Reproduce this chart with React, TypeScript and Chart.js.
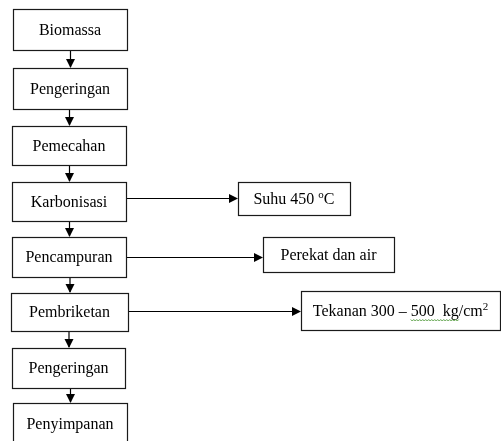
import React, { useEffect, useRef } from "react";
import { Chart, registerables } from "chart.js";

Chart.register(...registerables);

// Main process steps (top to bottom)
const mainSteps = [
  "Biomassa",
  "Pengeringan",
  "Pemecahan",
  "Karbonisasi",
  "Pencampuran",
  "Pembriketan",
  "Pengeringan",
  "Penyimpanan",
];
const mainLeft = [13, 13, 12, 12, 12, 11, 12, 13];
const mainRight = [127, 127, 126, 126, 126, 128, 125, 127];
const mainTop = [9, 68, 126, 182, 237, 293, 348, 403];
const mainBottom = [50, 109, 165, 221, 277, 331, 388, 446];

// Side notes (condition / input) attached to main steps
const sideMain = ["Suhu 450 ", "Perekat dan air", "Tekanan 300 – 500  kg/cm"];
const sideSup = ["o", "", "2"];
const sideTail = ["C", "", ""];
const sideFrom = [3, 4, 5];
const sideLeft = [238, 263, 301];
const sideRight = [350, 394, 500];
const sideTop = [182, 237, 291];
const sideBottom = [215, 272, 330];
const sideLineY = [198, 257, 311];

const FONT = "16px 'Liberation Serif', 'Times New Roman', serif";
const SUP_FONT = "11px 'Liberation Serif', 'Times New Roman', serif";

export default function App() {
  const ref = useRef<HTMLCanvasElement | null>(null);

  useEffect(() => {
    const canvas = ref.current;
    if (!canvas) return;

    const connectors: any[] = [];
    for (let i = 0; i < mainSteps.length - 1; i++) {
      const x = (mainLeft[i + 1] + mainRight[i + 1]) / 2 + 0.5;
      connectors.push({
        data: [
          { x, y: mainBottom[i] },
          { x, y: mainTop[i + 1] - 1 },
        ],
        dir: "down",
      });
    }
    for (let j = 0; j < sideMain.length; j++) {
      const y = sideLineY[j] + 0.5;
      connectors.push({
        data: [
          { x: mainRight[sideFrom[j]], y },
          { x: sideLeft[j] - 1, y },
        ],
        dir: "right",
      });
    }

    const boxPlugin = {
      id: "flowBoxes",
      afterDatasetsDraw(chart: any) {
        const ctx = chart.ctx;
        const xs = chart.scales.x;
        const ys = chart.scales.y;
        const px = (v: number) => Math.round(xs.getPixelForValue(v)) + 0.5;
        const py = (v: number) => Math.round(ys.getPixelForValue(v)) + 0.5;
        ctx.save();
        // arrowheads
        ctx.fillStyle = "#000";
        connectors.forEach((c) => {
          const end = c.data[1];
          const tx = xs.getPixelForValue(end.x);
          const ty = ys.getPixelForValue(end.y);
          ctx.beginPath();
          if (c.dir === "down") {
            ctx.moveTo(tx, ty + 1);
            ctx.lineTo(tx - 4.5, ty - 8);
            ctx.lineTo(tx + 4.5, ty - 8);
          } else {
            ctx.moveTo(tx + 1, ty);
            ctx.lineTo(tx - 8, ty - 4.5);
            ctx.lineTo(tx - 8, ty + 4.5);
          }
          ctx.closePath();
          ctx.fill();
        });

        const drawBox = (l: number, t: number, r: number, b: number) => {
          const x0 = px(l), y0 = py(t), x1 = px(r), y1 = py(b);
          ctx.fillStyle = "#fff";
          ctx.fillRect(x0, y0, x1 - x0, y1 - y0);
          ctx.strokeStyle = "#1a1a1a";
          ctx.lineWidth = 1.2;
          ctx.strokeRect(x0, y0, x1 - x0, y1 - y0);
        };

        ctx.textBaseline = "alphabetic";
        ctx.textAlign = "left";
        mainSteps.forEach((label, i) => {
          drawBox(mainLeft[i], mainTop[i], mainRight[i], mainBottom[i]);
          ctx.font = FONT;
          ctx.fillStyle = "#000";
          const w = ctx.measureText(label).width;
          const cx = xs.getPixelForValue((mainLeft[i] + mainRight[i]) / 2);
          const cy = ys.getPixelForValue((mainTop[i] + Math.min(mainBottom[i], 441 + 3)) / 2);
          const bottom = i === mainSteps.length - 1 ? ys.getPixelForValue(mainTop[i]) + 26 : cy + 5;
          ctx.fillText(label, cx - w / 2, bottom);
        });

        sideMain.forEach((label, j) => {
          drawBox(sideLeft[j], sideTop[j], sideRight[j], sideBottom[j]);
          ctx.font = FONT;
          const w1 = ctx.measureText(label).width;
          const w3 = ctx.measureText(sideTail[j]).width;
          ctx.font = SUP_FONT;
          const w2 = ctx.measureText(sideSup[j]).width;
          const total = w1 + w2 + w3;
          const cx = xs.getPixelForValue((sideLeft[j] + sideRight[j]) / 2);
          const cy = ys.getPixelForValue((sideTop[j] + sideBottom[j]) / 2);
          let x = cx - total / 2;
          const base = cy + 5;
          ctx.fillStyle = "#000";
          ctx.font = FONT;
          ctx.fillText(label, x, base);
          // spell-check squiggle under "500  kg"
          if (j === 2) {
            const pre = ctx.measureText("Tekanan 300 – ").width;
            const upto = ctx.measureText("Tekanan 300 – 500  kg").width;
            const sx = x + pre, ex = x + upto;
            ctx.strokeStyle = "#4f9a3a";
            ctx.lineWidth = 0.9;
            ctx.beginPath();
            let k = 0;
            for (let xx = sx; xx <= ex; xx += 1.5) {
              const yy = base + 4 + (k % 2 === 0 ? 0 : 1.5);
              if (k === 0) ctx.moveTo(xx, yy);
              else ctx.lineTo(xx, yy);
              k++;
            }
            ctx.stroke();
          }
          x += w1;
          ctx.font = SUP_FONT;
          ctx.fillText(sideSup[j], x, base - 6);
          x += w2;
          ctx.font = FONT;
          ctx.fillText(sideTail[j], x, base);
        });
        ctx.restore();
      },
    };

    const chart = new Chart(canvas, {
      type: "scatter",
      data: {
        datasets: connectors.map((c) => ({
          data: c.data,
          showLine: true,
          borderColor: "#000",
          borderWidth: 1.2,
          pointRadius: 0,
          fill: false,
        })),
      },
      options: {
        responsive: false,
        animation: false,
        events: [],
        layout: { padding: 0 },
        plugins: { legend: { display: false }, tooltip: { enabled: false } },
        scales: {
          x: { type: "linear", min: 0, max: 501, display: false },
          y: { type: "linear", min: 0, max: 441, reverse: true, display: false },
        },
      },
      plugins: [boxPlugin],
    });
    return () => chart.destroy();
  }, []);

  return (
    <div style={{ position: "fixed", left: 0, top: 0, width: 501, height: 441, background: "#fff" }}>
      <canvas ref={ref} width={501} height={441} style={{ display: "block" }} />
    </div>
  );
}
